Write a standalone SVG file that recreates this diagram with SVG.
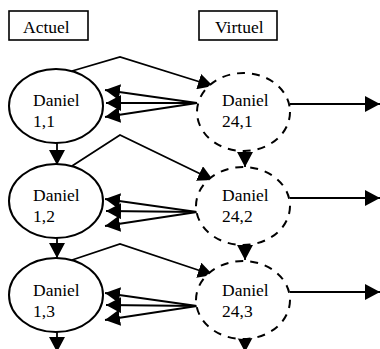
<svg xmlns="http://www.w3.org/2000/svg" width="380" height="349" viewBox="0 0 380 349">
<style>
.t{font-family:'Liberation Serif','Times New Roman','DejaVu Serif',serif;font-size:17.5px;fill:#000}
.box{fill:#fff;stroke:#000;stroke-width:1.6}
.act{fill:#fff;stroke:#000;stroke-width:2}
.virt{fill:#fff;stroke:#000;stroke-width:2;stroke-dasharray:8 7}
.ln{fill:none;stroke:#000;stroke-width:1.8}
</style>
<defs>
<marker id="ah" viewBox="0 0 15 16" refX="15" refY="8" markerWidth="15" markerHeight="16" orient="auto" markerUnits="userSpaceOnUse">
<path d="M0,0 L15,8 L0,16 z" fill="#000"/>
</marker>
</defs>
<g id="label-actuel"><rect class="box" x="9" y="11" width="79" height="29"/><text class="t" x="23" y="33">Actuel</text></g>
<g id="label-virtuel"><rect class="box" x="199" y="11" width="78" height="29"/><text class="t" x="215" y="33">Virtuel</text></g>

<g id="connectors">
<path class="ln" marker-end="url(#ah)" d="M72,71 L120,57 L213,86"/>
<path class="ln" marker-end="url(#ah)" d="M72,166 L120,135 L213,180"/>
<path class="ln" marker-end="url(#ah)" d="M72,260 L120,244 L213,275"/>

<path class="ln" marker-end="url(#ah)" d="M197,103 L105,90"/>
<path class="ln" marker-end="url(#ah)" d="M197,103 L106,103"/>
<path class="ln" marker-end="url(#ah)" d="M197,103 L105,117"/>

<path class="ln" marker-end="url(#ah)" d="M197,212 L105,199"/>
<path class="ln" marker-end="url(#ah)" d="M197,212 L106,211"/>
<path class="ln" marker-end="url(#ah)" d="M197,212 L105,226"/>

<path class="ln" marker-end="url(#ah)" d="M197,306 L105,293"/>
<path class="ln" marker-end="url(#ah)" d="M197,306 L106,305"/>
<path class="ln" marker-end="url(#ah)" d="M197,306 L105,320"/>

<path class="ln" marker-end="url(#ah)" d="M57,135 L57,165"/>
<path class="ln" marker-end="url(#ah)" d="M57,228 L57,258"/>
<path class="ln" marker-end="url(#ah)" d="M57,322 L57,352"/>

<path class="ln" marker-end="url(#ah)" d="M245,135 L245,167"/>
<path class="ln" marker-end="url(#ah)" d="M245,228 L245,260"/>
<path class="ln" marker-end="url(#ah)" d="M245,327 L245,352"/>

<path class="ln" marker-end="url(#ah)" d="M290,104 L380,104"/>
<path class="ln" marker-end="url(#ah)" d="M290,198 L380,198"/>
<path class="ln" marker-end="url(#ah)" d="M290,292 L380,292"/>
</g>

<g id="n-1-1"><ellipse class="act" cx="56" cy="106" rx="47" ry="37"/><text class="t" x="33" y="106">Daniel</text><text class="t" x="33" y="127">1,1</text></g>
<g id="n-1-2"><ellipse class="act" cx="56" cy="201" rx="47" ry="37"/><text class="t" x="33" y="201">Daniel</text><text class="t" x="33" y="222">1,2</text></g>
<g id="n-1-3"><ellipse class="act" cx="56" cy="295" rx="47" ry="37"/><text class="t" x="33" y="296">Daniel</text><text class="t" x="33" y="317">1,3</text></g>

<g id="n-24-1"><ellipse class="virt" cx="243.5" cy="112" rx="46.5" ry="39"/><text class="t" x="222" y="106">Daniel</text><text class="t" x="222" y="127">24,1</text></g>
<g id="n-24-2"><ellipse class="virt" cx="243" cy="206" rx="47" ry="39"/><text class="t" x="222" y="201">Daniel</text><text class="t" x="222" y="222">24,2</text></g>
<g id="n-24-3"><ellipse class="virt" cx="243" cy="300" rx="47" ry="39"/><text class="t" x="222" y="296">Daniel</text><text class="t" x="222" y="317">24,3</text></g>
</svg>
